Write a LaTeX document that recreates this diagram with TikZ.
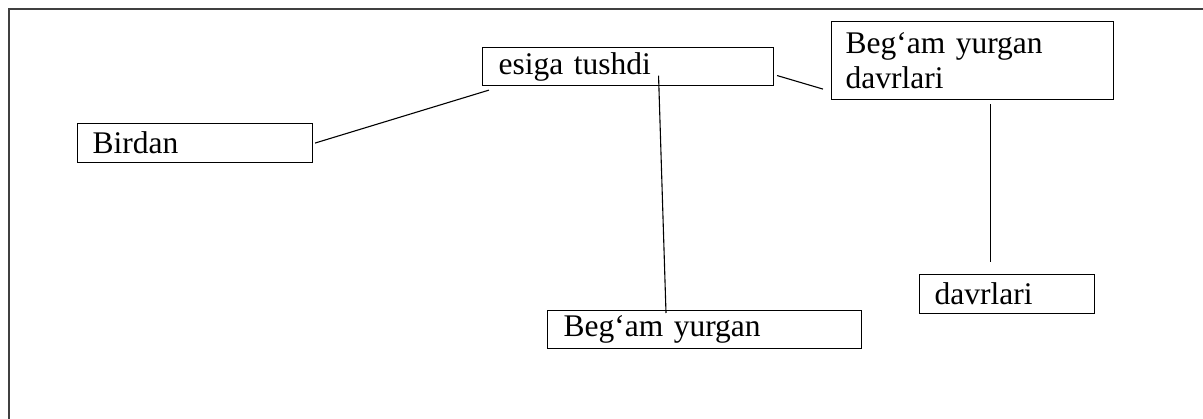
\documentclass[tikz,border=0pt]{standalone}
\usepackage{fontspec}
\setmainfont{Liberation Serif}
\usetikzlibrary{calc}
\begin{document}
\begin{tikzpicture}[x=1pt,y=-1pt,
  box/.style={draw=black, line width=1.1pt, anchor=north west, align=left,
    inner xsep=0pt, inner ysep=0pt, font=\fontsize{31.5}{35}\selectfont},
  link/.style={draw=black, line width=1.1pt},
  frame/.style={draw=black!75, line width=1.8pt}]
\useasboundingbox (0,0) rectangle (1203,419);
\draw[frame] (9,419) -- (9,9) -- (1203,9);
% boxes
\node[box, minimum width=291pt, minimum height=38pt, text width=291pt-32pt, inner xsep=16pt] (esiga) at (482,47) {esiga tushdi};
\node[box, minimum width=235pt, minimum height=39pt, text width=235pt-30pt, inner xsep=15pt] (birdan) at (77,123) {Birdan};
\node[box, minimum width=282pt, minimum height=78pt, text width=282pt-28pt, inner xsep=14pt] (begdav) at (831,21) {Beg‘am yurgan\\davrlari};
\node[box, minimum width=314pt, minimum height=38pt, text width=314pt-32pt, inner xsep=16pt] (begam) at (547,310) {Beg‘am yurgan};
\node[box, minimum width=175pt, minimum height=39pt, text width=175pt-30pt, inner xsep=15pt] (davr) at (919,274) {davrlari};
% connectors
\draw[link] ($(birdan.east)+(2,0)$) -- ($(esiga.south west)+(7,4)$);
\draw[link] ($(esiga.center)+(30.5,9)$) -- ($(begam.north west)+(119,3)$);
\draw[link] ($(esiga.east)+(3,9)$) -- ($(begdav.south west)+(-8,-11)$);
\draw[link] ($(begdav.south)+(18,4)$) -- ($(davr.north)+(-16.5,-12)$);
\end{tikzpicture}
\end{document}
